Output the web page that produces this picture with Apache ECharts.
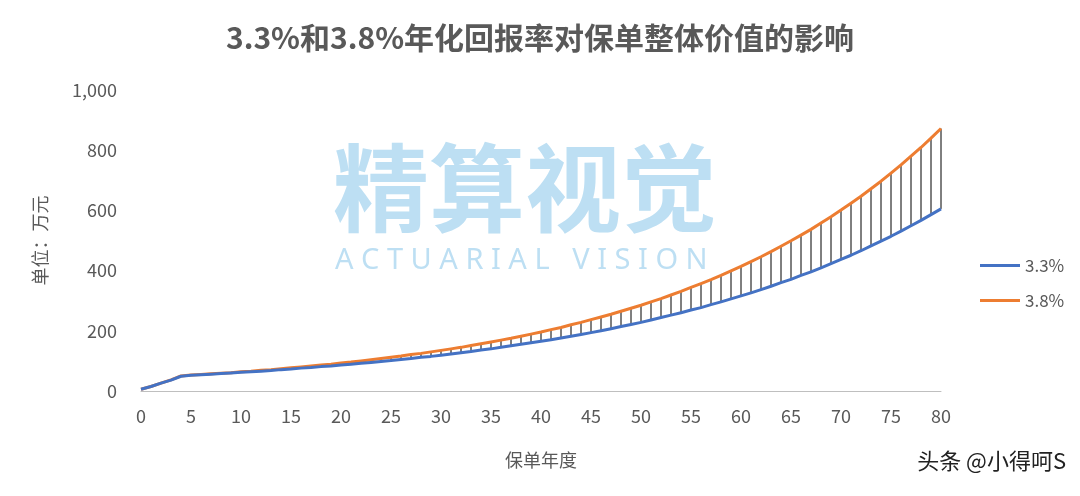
<!DOCTYPE html>
<html><head><meta charset="utf-8">
<script src="https://cdn.jsdelivr.net/npm/echarts@6/dist/echarts.min.js"></script>
<style>html,body{margin:0;padding:0;background:#fff}#c{width:1080px;height:496px}</style>
</head><body><div id="c"></div>
<script>
const years = Array.from({length:81},(_,i)=>i);
const s33 = [6,15,26,36,49,52,54,56,58,60,62,64,66,68,71,73,76,78,81,83,86,89,92,95,98,101,105,108,112,115,119,123,127,131,136,140,145,150,155,160,165,170,176,182,188,194,200,207,214,221,228,236,244,252,260,269,277,287,296,306,316,326,337,348,360,371,384,396,409,423,437,451,466,482,498,514,531,549,567,586,605];
const s38 = [6,15,26,37,50,53,55,57,59,61,64,66,69,71,74,77,80,83,86,89,93,96,100,104,108,112,116,121,125,130,135,140,145,151,157,163,169,175,182,189,196,204,211,220,228,237,246,255,265,275,285,296,307,319,331,344,357,370,384,399,414,430,446,463,481,499,518,537,558,579,601,624,647,672,697,724,751,780,809,840,872];
const ff = '"Noto Sans CJK SC","Noto Sans",sans-serif';
const chart = echarts.init(document.getElementById('c'));
chart.setOption({
  animation:false,
  title:{text:'3.3%和3.8%年化回报率对保单整体价值的影响',left:'center',top:18,textStyle:{fontFamily:ff,fontSize:30,fontWeight:'bold',color:'#595959'}},
  graphic:[
    {type:'text',left:333,top:140,z:0,style:{text:'精算视觉',fontFamily:ff,fontSize:96,fontWeight:'bold',fill:'#bddff3'}},
    {type:'text',left:335,top:246,z:0,style:{text:'A C T U A R I A L   V I S I O N',fontFamily:'"Noto Sans",sans-serif',fontSize:29,fill:'#bddff3'}},
    {type:'text',right:14,top:450,style:{text:'头条 @小得呵S',fontFamily:ff,fontSize:22,fill:'#222'}}
  ],
  legend:{orient:'vertical',left:975,top:252,itemGap:18,itemWidth:40,itemHeight:3,icon:'rect',
    data:['3.3%','3.8%'],textStyle:{fontFamily:ff,fontSize:17,color:'#595959'}},
  grid:{left:141,right:139,top:90,bottom:105},
  xAxis:{type:'value',min:0,max:80,interval:5,name:'保单年度',nameLocation:'middle',nameGap:60,
    nameTextStyle:{fontFamily:ff,fontSize:18,color:'#595959'},
    axisLine:{lineStyle:{color:'#bfbfbf'}},axisTick:{show:false},splitLine:{show:false},
    axisLabel:{fontFamily:ff,fontSize:18,color:'#595959',margin:16}},
  yAxis:{type:'value',min:0,max:1000,interval:200,name:'单位：万元',nameLocation:'middle',nameGap:92,
    nameTextStyle:{fontFamily:ff,fontSize:18,color:'#595959'},
    axisLine:{show:false},axisTick:{show:false},splitLine:{show:false},
    axisLabel:{fontFamily:ff,fontSize:18,color:'#595959',margin:24,formatter:v=>v.toLocaleString('en-US')}},
  series:[
    {type:'custom',name:'drop',z:1,data:years.map(i=>[i,s33[i],s38[i]]),
      renderItem:(p,api)=>{const a=api.coord([api.value(0),api.value(1)]);const b=api.coord([api.value(0),api.value(2)]);
        return {type:'line',shape:{x1:a[0],y1:a[1],x2:b[0],y2:b[1]},style:{stroke:'#000',lineWidth:1}};}},
    {type:'line',name:'3.3%',z:3,data:years.map(i=>[i,s33[i]]),showSymbol:false,lineStyle:{width:3,color:'#4472c4'},itemStyle:{color:'#4472c4'}},
    {type:'line',name:'3.8%',z:2,data:years.map(i=>[i,s38[i]]),showSymbol:false,lineStyle:{width:3,color:'#ed7d31'},itemStyle:{color:'#ed7d31'}}
  ]
});
</script></body></html>
